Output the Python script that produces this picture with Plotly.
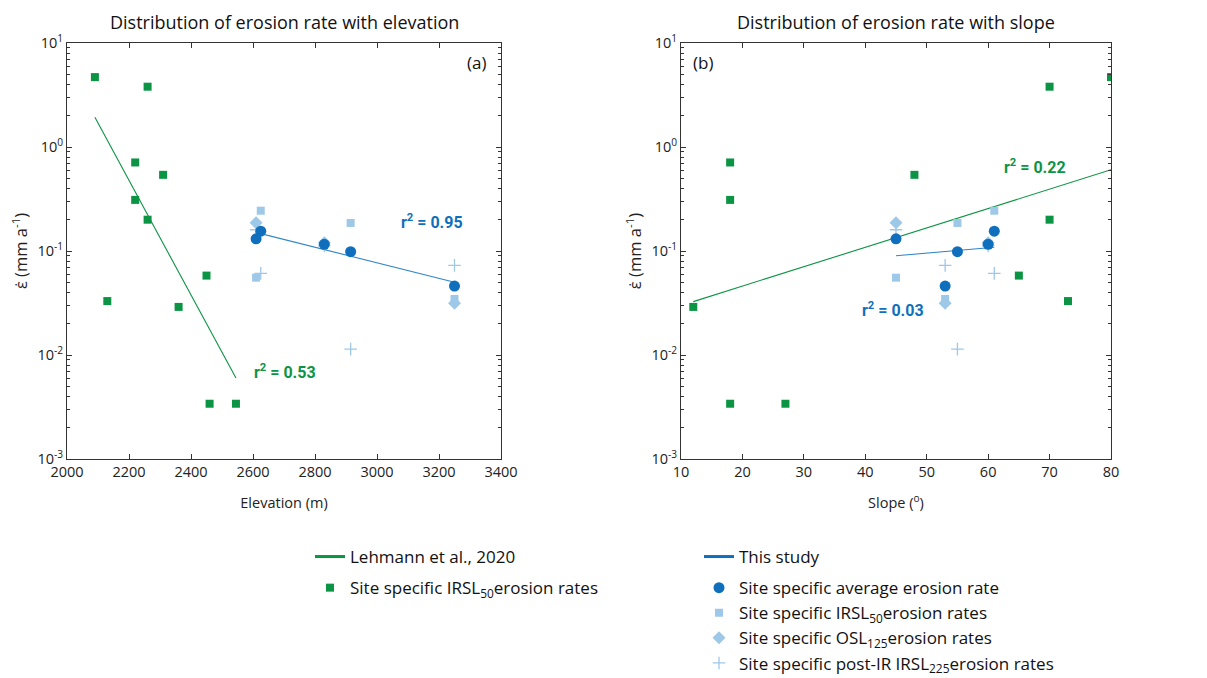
import plotly.graph_objects as go

# ---------------- data ----------------
# Lehmann et al., 2020 (site specific IRSL50 erosion rates)
lehmann_elev = [2090, 2260, 2220, 2310, 2220, 2260, 2450, 2130, 2360, 2460, 2545]
lehmann_slope = [80, 70, 18, 48, 18, 70, 65, 73, 12, 18, 27]
lehmann_rate = [4.7, 3.8, 0.71, 0.54, 0.31, 0.20, 0.058, 0.033, 0.029, 0.0034, 0.0034]
lehmann_elev_fit_x = [2090, 2545]
lehmann_elev_fit_y = [1.93, 0.0060]
lehmann_slope_fit_x = [12, 80]
lehmann_slope_fit_y = [0.0326, 0.605]

# This study
site_elev = [2610, 2625, 2830, 2915, 3250]
site_slope = [45, 61, 60, 55, 53]
avg_rate = [0.131, 0.155, 0.116, 0.0986, 0.046]
irsl50_rate = [0.0554, 0.244, None, 0.186, 0.0346]
osl125_rate = [0.187, None, 0.120, None, 0.0314]
pirir225_rate = [0.160, 0.061, 0.112, 0.0114, 0.0728]
this_elev_fit_x = [2625, 3250]
this_elev_fit_y = [0.147, 0.050]
this_slope_fit_x = [45, 61]
this_slope_fit_y = [0.090, 0.1086]

r2_labels = ["0.53", "0.95", "0.22", "0.03"]
ytick_vals = [1e-3, 1e-2, 1e-1, 1, 10]
ytick_text = ["10<sup>-3</sup>", "10<sup>-2</sup>", "10<sup>-1</sup>", "10<sup>0</sup>", "10<sup>1</sup>"]

# ---------------- styles ----------------
GREEN = "#0b9444"
DBLUE = "#0f6fbd"
LBLUE = "#9ec8e8"
LINEBLUE = "#2f86c8"
FONT = "Open Sans"
AX = "#333333"

W, H = 1207, 678
def px_x(p):
    return p / W
def px_y(p):
    return 1 - p / H

fig = go.Figure()

# legend-only entries for the fit lines (drawn thicker in the legend, as in the reference)
fig.add_trace(go.Scatter(x=[None], y=[None], mode="lines", line=dict(color=GREEN, width=3),
                         name="Lehmann et al., 2020", legend="legend", legendgroup="l1", legendrank=1))
fig.add_trace(go.Scatter(x=[None], y=[None], mode="lines", line=dict(color=DBLUE, width=3),
                         name="This study", legend="legend2", legendgroup="t1", legendrank=1))

def add_panel(xvals_l, fitx_l, fity_l, xvals_t, fitx_t, fity_t, xa, ya, show):
    fig.add_trace(go.Scatter(x=fitx_l, y=fity_l, mode="lines", line=dict(color=GREEN, width=1.1),
                             xaxis=xa, yaxis=ya, showlegend=False))
    fig.add_trace(go.Scatter(x=fitx_t, y=fity_t, mode="lines", line=dict(color=LINEBLUE, width=1.1),
                             xaxis=xa, yaxis=ya, showlegend=False))
    fig.add_trace(go.Scatter(x=xvals_t, y=irsl50_rate, mode="markers",
                             marker=dict(symbol="square", size=8, color=LBLUE),
                             name="Site specific IRSL<sub>50</sub>erosion rates", xaxis=xa, yaxis=ya,
                             showlegend=show, legend="legend2", legendgroup="t2", legendrank=3))
    fig.add_trace(go.Scatter(x=xvals_t, y=osl125_rate, mode="markers",
                             marker=dict(symbol="diamond", size=10, color=LBLUE),
                             name="Site specific OSL<sub>125</sub>erosion rates", xaxis=xa, yaxis=ya,
                             showlegend=show, legend="legend2", legendgroup="t2", legendrank=4))
    fig.add_trace(go.Scatter(x=xvals_t, y=pirir225_rate, mode="markers",
                             marker=dict(symbol="cross-thin", size=9, color=LBLUE,
                                         line=dict(color=LBLUE, width=1.3)),
                             name="Site specific post-IR IRSL<sub>225</sub>erosion rates", xaxis=xa, yaxis=ya,
                             showlegend=show, legend="legend2", legendgroup="t2", legendrank=5))
    fig.add_trace(go.Scatter(x=xvals_t, y=avg_rate, mode="markers",
                             marker=dict(symbol="circle", size=11, color=DBLUE),
                             name="Site specific average erosion rate", xaxis=xa, yaxis=ya,
                             showlegend=show, legend="legend2", legendgroup="t2", legendrank=2))
    fig.add_trace(go.Scatter(x=xvals_l, y=lehmann_rate, mode="markers",
                             marker=dict(symbol="square", size=8, color=GREEN),
                             name="Site specific IRSL<sub>50</sub>erosion rates", xaxis=xa, yaxis=ya,
                             showlegend=show, legend="legend", legendgroup="l2", legendrank=2))

add_panel(lehmann_elev, lehmann_elev_fit_x, lehmann_elev_fit_y,
          site_elev, this_elev_fit_x, this_elev_fit_y, "x", "y", True)
add_panel(lehmann_slope, lehmann_slope_fit_x, lehmann_slope_fit_y,
          site_slope, this_slope_fit_x, this_slope_fit_y, "x2", "y2", False)

minor_vals = [m * 10 ** e for e in range(-3, 1) for m in range(2, 10)]

def yaxis(domain_anchor):
    return dict(type="log", range=[-3, 1], tickmode="array", tickvals=ytick_vals, ticktext=ytick_text,
                ticks="inside", ticklen=5, tickcolor=AX, showline=True, linecolor=AX, linewidth=1,
                mirror="allticks", showgrid=False, zeroline=False, anchor=domain_anchor,
                domain=[px_y(459), px_y(43)], automargin=False,
                tickfont=dict(family=FONT, size=14.5, color="#222"),
                minor=dict(tickmode="array", tickvals=minor_vals, ticks="inside", ticklen=3, tickcolor=AX,
                           showgrid=False),
                title=dict(text="ε̇ (mm a<sup>-1</sup>)", font=dict(family=FONT, size=16.5, color="#222"),
                           standoff=5))

def xaxis(rng, dtick, dom, title, anchor):
    return dict(range=rng, dtick=dtick, tick0=rng[0], ticks="inside", ticklen=5, tickcolor=AX,
                showline=True, linecolor=AX, linewidth=1, mirror="allticks", showgrid=False,
                zeroline=False, domain=dom, anchor=anchor, automargin=False,
                tickfont=dict(family=FONT, size=14.5, color="#222"),
                title=dict(text=title, font=dict(family=FONT, size=14.5, color="#222"), standoff=17))

fig.update_layout(
    width=W, height=H, margin=dict(l=0, r=0, t=0, b=0, autoexpand=False),
    paper_bgcolor="white", plot_bgcolor="white",
    font=dict(family=FONT, color="#222"),
    xaxis=xaxis([2000, 3400], 200, [px_x(67), px_x(501)], "Elevation (m)", "y"),
    yaxis=yaxis("x"),
    xaxis2=xaxis([10, 80], 10, [px_x(681), px_x(1111)], "Slope (<sup>o</sup>)", "y2"),
    yaxis2=yaxis("x2"),
    legend=dict(x=px_x(310), y=px_y(539), xanchor="left", yanchor="top", traceorder="grouped",
                tracegroupgap=6, font=dict(family=FONT, size=17, color="#111"), bgcolor="rgba(0,0,0,0)"),
    legend2=dict(x=px_x(699), y=px_y(539), xanchor="left", yanchor="top", traceorder="grouped",
                 tracegroupgap=6, font=dict(family=FONT, size=17, color="#111"), bgcolor="rgba(0,0,0,0)"),
)

ann = []
ann.append(dict(text="Distribution of erosion rate with elevation", x=px_x(284), y=px_y(22), xref="paper",
                yref="paper", xanchor="center", yanchor="middle", showarrow=False,
                font=dict(family=FONT, size=18, color="#111")))
ann.append(dict(text="Distribution of erosion rate with slope", x=px_x(896), y=px_y(22), xref="paper",
                yref="paper", xanchor="center", yanchor="middle", showarrow=False,
                font=dict(family=FONT, size=18, color="#111")))
ann.append(dict(text="(a)", x=3321, y=0.808, xref="x", yref="y", showarrow=False,
                font=dict(family=FONT, size=17, color="#111")))
ann.append(dict(text="(b)", x=13.6, y=0.808, xref="x2", yref="y2", showarrow=False,
                font=dict(family=FONT, size=17, color="#111")))
r2_pos = [(2702, -2.16, "x", "y", GREEN), (3179, -0.72, "x", "y", DBLUE),
          (67.7, -0.19, "x2", "y2", GREEN), (44.5, -1.567, "x2", "y2", DBLUE)]
for lab, (ax_, ay_, xr, yr, c) in zip(r2_labels, r2_pos):
    ann.append(dict(text="<b>r<sup>2</sup> = " + lab + "</b>", x=ax_, y=ay_, xref=xr, yref=yr,
                    showarrow=False, font=dict(family="Roboto", size=16, color=c)))
fig.update_layout(annotations=ann)

fig.write_html("out.html", config={"displayModeBar": False},
               post_script="document.body.style.margin='0px';")
